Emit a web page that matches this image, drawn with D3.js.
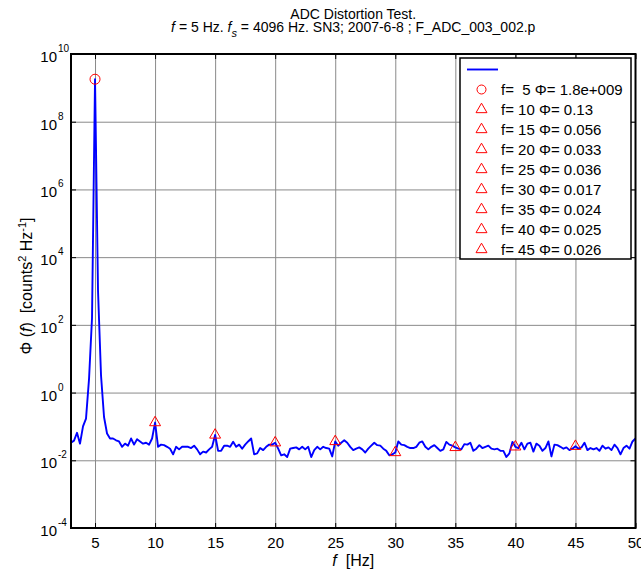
<!DOCTYPE html>
<html>
<head>
<meta charset="utf-8">
<script src="https://cdn.jsdelivr.net/npm/d3@7"></script>
<style>
  body { margin: 0; background: #fff; }
  svg { display: block; font-family: "Liberation Sans", Arial, sans-serif; }
</style>
</head>
<body>
<div id="chart"></div>
<script>
// spectrum sampled every 0.25 Hz starting at 3 Hz (one row per Hz)
const freqStart = 3;
const freqStep = 0.25;
const phi = [
  0.033, 0.038, 0.065, 0.031,     // 3
  0.10, 0.17, 2.5, 160,           // 4
  1.8e9, 1000, 3.2, 0.19,         // 5
  0.062, 0.044, 0.044, 0.039,     // 6
  0.036, 0.025, 0.031, 0.027,     // 7
  0.044, 0.029, 0.042, 0.036,     // 8
  0.031, 0.033, 0.029, 0.044,     // 9
  0.13, 0.025, 0.029, 0.028,      // 10
  0.025, 0.022, 0.015, 0.025,     // 11
  0.021, 0.025, 0.025, 0.025,     // 12
  0.023, 0.027, 0.021, 0.015,     // 13
  0.018, 0.017, 0.021, 0.025,     // 14
  0.056, 0.019, 0.019, 0.027,     // 15
  0.027, 0.025, 0.035, 0.025,     // 16
  0.029, 0.022, 0.029, 0.036,     // 17
  0.044, 0.015, 0.016, 0.023,     // 18
  0.020, 0.025, 0.029, 0.029,     // 19
  0.033, 0.022, 0.014, 0.015,     // 20
  0.0125, 0.022, 0.023, 0.024,    // 21
  0.021, 0.025, 0.021, 0.025,     // 22
  0.0125, 0.020, 0.025, 0.021,    // 23
  0.025, 0.023, 0.022, 0.013,     // 24
  0.036, 0.027, 0.033, 0.039,     // 25
  0.033, 0.025, 0.020, 0.022,     // 26
  0.024, 0.021, 0.017, 0.022,     // 27
  0.027, 0.033, 0.028, 0.027,     // 28
  0.022, 0.019, 0.014, 0.015,     // 29
  0.017, 0.036, 0.029, 0.028,     // 30
  0.025, 0.023, 0.023, 0.025,     // 31
  0.033, 0.036, 0.025, 0.021,     // 32
  0.025, 0.028, 0.023, 0.019,     // 33
  0.021, 0.035, 0.029, 0.027,     // 34
  0.024, 0.022, 0.021, 0.030,     // 35
  0.029, 0.033, 0.019, 0.022,     // 36
  0.028, 0.023, 0.025, 0.027,     // 37
  0.022, 0.021, 0.022, 0.019,     // 38
  0.019, 0.0125, 0.016, 0.035,    // 39
  0.025, 0.023, 0.033, 0.021,     // 40
  0.031, 0.033, 0.018, 0.031,     // 41
  0.027, 0.019, 0.023, 0.036,     // 42
  0.013, 0.029, 0.028, 0.025,     // 43
  0.022, 0.024, 0.020, 0.022,     // 44
  0.026, 0.022, 0.024, 0.033,     // 45
  0.020, 0.023, 0.021, 0.023,     // 46
  0.019, 0.027, 0.022, 0.024,     // 47
  0.020, 0.029, 0.023, 0.015,     // 48
  0.023, 0.027, 0.022, 0.036,     // 49
  0.044                           // 50
];

// picked harmonics (first one is the fundamental)
const harmonicHz = [5, 10, 15, 20, 25, 30, 35, 40, 45];
const harmonicPhi = [1.8e9, 0.13, 0.056, 0.033, 0.036, 0.017, 0.024, 0.025, 0.026];
const legendLabels = [
  "f=  5 \u03A6= 1.8e+009",
  "f= 10 \u03A6= 0.13",
  "f= 15 \u03A6= 0.056",
  "f= 20 \u03A6= 0.033",
  "f= 25 \u03A6= 0.036",
  "f= 30 \u03A6= 0.017",
  "f= 35 \u03A6= 0.024",
  "f= 40 \u03A6= 0.025",
  "f= 45 \u03A6= 0.026"
];

const xTicks = [5, 10, 15, 20, 25, 30, 35, 40, 45, 50];
const yTickExp = [-4, -2, 0, 2, 4, 6, 8, 10];

const W = 641, H = 569;
const margin = { top: 54, right: 5.5, bottom: 41, left: 71 };
const innerW = W - margin.left - margin.right;
const innerH = H - margin.top - margin.bottom;

const svg = d3.select("#chart").append("svg")
    .attr("width", W).attr("height", H)
    .attr("viewBox", `0 0 ${W} ${H}`);

const plot = svg.append("g")
    .attr("transform", `translate(${margin.left},${margin.top})`);

const x = d3.scaleLinear().domain([3, 50]).range([0, innerW]);
const y = d3.scaleLog().domain([1e-4, 1e10]).range([innerH, 0]);

const series = phi.map((v, i) => ({ f: freqStart + i * freqStep, v }));

// grid
const grid = plot.append("g").attr("stroke", "#8a8a8a").attr("stroke-width", 1);
grid.selectAll("line.gx").data(xTicks.filter(d => d < 50)).join("line")
    .attr("x1", d => x(d) + 0.5).attr("x2", d => x(d) + 0.5)
    .attr("y1", 0).attr("y2", innerH);
grid.selectAll("line.gy").data(yTickExp.filter(e => e > -4 && e < 10)).join("line")
    .attr("x1", 0).attr("x2", innerW)
    .attr("y1", e => y(Math.pow(10, e)) + 0.5).attr("y2", e => y(Math.pow(10, e)) + 0.5);

// clip for the data
svg.append("defs").append("clipPath").attr("id", "clip")
  .append("rect").attr("width", innerW).attr("height", innerH);

const line = d3.line().x(d => x(d.f)).y(d => y(d.v));
plot.append("path")
    .datum(series)
    .attr("clip-path", "url(#clip)")
    .attr("fill", "none")
    .attr("stroke", "#0000ff")
    .attr("stroke-width", 1.9)
    .attr("stroke-linejoin", "round")
    .attr("d", line);

// markers
const tri = d3.symbol().type(d3.symbolTriangle).size(52);
const harm = harmonicHz.map((f, i) => ({ f, v: harmonicPhi[i], i }));
plot.selectAll("circle.h").data(harm.filter(d => d.i === 0)).join("circle")
    .attr("cx", d => x(d.f)).attr("cy", d => y(d.v)).attr("r", 5)
    .attr("fill", "none").attr("stroke", "#ff0000").attr("stroke-width", 1);
plot.selectAll("path.h").data(harm.filter(d => d.i > 0)).join("path")
    .attr("d", tri)
    .attr("transform", d => `translate(${x(d.f)},${y(d.v)})`)
    .attr("fill", "none").attr("stroke", "#ff0000").attr("stroke-width", 1);

// axes with inward ticks on all four sides
const tickVals = yTickExp.map(e => Math.pow(10, e));
const xb = plot.append("g").attr("transform", `translate(0,${innerH})`)
    .call(d3.axisBottom(x).tickValues(xTicks).tickSize(-5).tickPadding(9));
plot.append("g")
    .call(d3.axisTop(x).tickValues(xTicks).tickSize(-5).tickFormat(""));
plot.append("g")
    .call(d3.axisLeft(y).tickValues(tickVals).tickSize(-5).tickFormat(""));
plot.append("g").attr("transform", `translate(${innerW},0)`)
    .call(d3.axisRight(y).tickValues(tickVals).tickSize(-5).tickFormat(""));
plot.selectAll(".domain").remove();
plot.selectAll(".tick line").attr("stroke", "#000").attr("stroke-width", 1);
xb.selectAll("text").attr("font-size", 15).attr("fill", "#000")
    .attr("font-family", "'Liberation Sans', Arial, sans-serif");

plot.append("rect")
    .attr("width", innerW).attr("height", innerH)
    .attr("fill", "none").attr("stroke", "#000").attr("stroke-width", 2);

// y tick labels: 10^n
const yl = plot.append("g").attr("font-size", 15).attr("fill", "#000");
yTickExp.forEach(e => {
  const ty = y(Math.pow(10, e));
  yl.append("text").attr("x", -14).attr("y", ty + 8).attr("text-anchor", "end").text("10");
  yl.append("text").attr("x", -13).attr("y", ty - 2).attr("font-size", 10).text(e);
});

// legend
const lg = svg.append("g").attr("transform", "translate(460,58)");
lg.append("rect").attr("width", 171).attr("height", 201)
    .attr("fill", "#fff").attr("stroke", "#000").attr("stroke-width", 1.5);
lg.append("line").attr("x1", 7).attr("x2", 38).attr("y1", 11.5).attr("y2", 11.5)
    .attr("stroke", "#0000ff").attr("stroke-width", 1.9);
const rows = lg.selectAll("g.row").data(legendLabels).join("g")
    .attr("transform", (d, i) => `translate(0,${31.5 + i * 20})`);
rows.each(function (d, i) {
  const g = d3.select(this);
  if (i === 0) {
    g.append("circle").attr("cx", 21.5).attr("r", 4.5)
      .attr("fill", "none").attr("stroke", "#ff0000");
  } else {
    g.append("path").attr("d", tri).attr("transform", "translate(21.5,0)")
      .attr("fill", "none").attr("stroke", "#ff0000");
  }
  g.append("text").attr("x", 41).attr("y", 5.5).attr("font-size", 15)
    .style("white-space", "pre").text(d);
});

// titles
const title = svg.append("text").attr("text-anchor", "middle").attr("font-size", 14);
title.append("tspan").attr("x", margin.left + innerW / 2).attr("y", 19).text("ADC Distortion Test.");
const sub = svg.append("text").attr("text-anchor", "middle").attr("font-size", 14)
    .attr("x", margin.left + innerW / 2).attr("y", 32).style("white-space", "pre");
sub.append("tspan").attr("font-style", "italic").text("f");
sub.append("tspan").text(" = 5 Hz. ");
sub.append("tspan").attr("font-style", "italic").text("f");
sub.append("tspan").attr("font-style", "italic").attr("font-size", 11).attr("dy", 5).text("s");
sub.append("tspan").attr("dy", -5).text(" = 4096 Hz. SN3; 2007-6-8 ; F_ADC_003_002.p");

const xt = svg.append("text").attr("text-anchor", "middle").attr("font-size", 16)
    .attr("x", margin.left + innerW / 2).attr("y", 566).style("white-space", "pre");
xt.append("tspan").attr("font-style", "italic").text("f");
xt.append("tspan").text("  [Hz]");

const yt = svg.append("text").attr("text-anchor", "middle").attr("font-size", 16)
    .attr("transform", `translate(32,286) rotate(-90)`)
    .style("white-space", "pre");
yt.append("tspan").text("\u03A6 (");
yt.append("tspan").attr("font-style", "italic").text("f");
yt.append("tspan").text(")  [counts");
yt.append("tspan").attr("font-size", 11).attr("dy", -6).text("2");
yt.append("tspan").attr("dy", 6).text(" Hz");
yt.append("tspan").attr("font-size", 11).attr("dy", -6).text("-1");
yt.append("tspan").attr("dy", 6).text("]");
</script>
</body>
</html>
